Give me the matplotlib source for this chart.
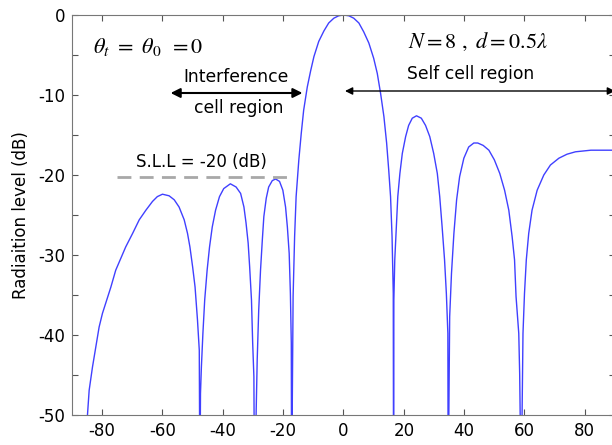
import numpy as np
import matplotlib
matplotlib.use("Agg")
import matplotlib.pyplot as plt

# pattern, lobe by lobe (angle in deg, level in dB)
ang = [-84.9, -84.3, -83.2, -82.1, -81.0, -79.9, -78.8, -77.1, -75.5, -73.8, -72.2, -69.9, -67.7,
       -65.5, -63.3, -61.7, -60.0, -57.8, -56.1, -54.5, -52.8, -51.7, -50.9, -50.0, -49.2, -48.4,
       -47.8, -47.6,
       -47.4, -47.1, -46.6, -46.0, -45.2, -44.4, -43.5, -42.4, -41.1, -39.7, -37.5, -35.6, -34.1,
       -33.0, -32.3, -31.6, -31.1, -30.5, -30.1, -29.7, -29.5,
       -28.6, -28.1, -27.5, -26.9, -26.4, -25.6, -24.8, -23.6, -22.5, -21.2, -20.1, -19.2, -18.6,
       -18.0, -17.6, -17.3, -17.2,
       -16.7, -16.2, -15.7, -14.8, -14.0, -13.2, -12.0, -10.9, -9.8, -8.2, -6.5, -4.9, -3.2, -1.6,
       0.0, 1.8, 3.4, 5.1, 6.7, 8.4, 10.0, 11.2, 12.3, 13.4, 14.3, 15.0, 15.6, 16.1, 16.5, 16.6,
       16.7, 17.0, 17.5, 18.0, 18.7, 19.5, 20.6, 21.6, 22.8, 24.2, 25.8, 27.2, 28.6, 29.9, 31.1,
       31.9, 32.7, 33.5, 34.1, 34.6, 34.7,
       35.2, 35.8, 36.6, 37.5, 38.5, 39.9, 41.5, 43.2, 44.5, 46.3, 48.2, 50.0, 51.8, 53.4, 54.8,
       55.9, 56.7, 57.2, 58.1, 58.4, 58.9,
       59.5, 60.0, 60.6, 61.4, 62.5, 64.2, 66.4, 68.6, 71.4, 74.1, 76.9, 79.6, 82.0, 90.0]
level = [-50.2, -46.9, -44.0, -41.5, -39.0, -37.3, -36.0, -34.0, -31.9, -30.4, -29.0, -27.3, -25.6,
         -24.4, -23.3, -22.7, -22.4, -22.6, -23.1, -24.0, -25.6, -27.3, -29.0, -31.5, -34.0, -38.1,
         -41.9, -60.0,
         -47.3, -44.0, -39.8, -35.6, -31.9, -29.0, -26.5, -24.4, -22.7, -21.7, -21.1, -21.5, -22.3,
         -24.0, -26.0, -28.5, -31.5, -35.6, -41.0, -45.2, -60.0,
         -43.1, -36.9, -31.9, -28.1, -25.2, -22.9, -21.5, -20.7, -20.5, -20.8, -21.9, -24.0, -26.5,
         -29.8, -34.8, -41.0, -60.0,
         -35.2, -27.7, -22.7, -18.1, -14.8, -11.9, -9.0, -7.0, -5.2, -3.3, -2.0, -1.0, -0.4, -0.1,
         0.0, -0.1, -0.4, -1.0, -2.1, -3.5, -5.4, -7.3, -9.8, -12.7, -16.0, -19.4, -22.7, -27.7, -34.8, -60.0,
         -35.6, -30.6, -26.5, -22.7, -19.8, -17.3, -15.2, -13.8, -12.9, -12.6, -12.9, -13.8, -15.2, -17.3, -19.8,
         -22.7, -26.5, -30.6, -34.8, -39.8, -60.0,
         -37.7, -32.3, -27.3, -23.1, -20.2, -17.9, -16.5, -16.0, -16.0, -16.3, -16.9, -18.1, -19.8, -21.9, -24.4,
         -27.7, -30.6, -35.2, -39.8, -44.8, -60.0,
         -39.8, -34.8, -30.6, -27.3, -24.4, -21.9, -20.0, -18.75, -17.9, -17.4, -17.1, -17.0, -16.9, -16.9]

xticks = [-80, -60, -40, -20, 0, 20, 40, 60, 80]
yticks = [0, -10, -20, -30, -40, -50]

plt.rcParams['font.family'] = ['DejaVu Sans']
plt.rcParams['mathtext.fontset'] = 'stix'
plt.rcParams['axes.unicode_minus'] = False

fig = plt.figure(figsize=(6.12, 4.45), dpi=100)
ax = fig.add_axes([0.1176, 0.0674, 0.8873, 0.8989])

ax.plot(ang, level, color='#4040ff', lw=1.0)

ax.set_xlim(-90, 90)
ax.set_ylim(-50, 0)
ax.set_xticks(xticks)
ax.set_yticks(yticks)
ax.set_yticks(np.arange(-45, 0, 10), minor=True)
ax.tick_params(which='both', direction='in', top=True, right=True, length=4,
               width=0.8, color='#555555', labelsize=12, pad=5)
for s in ax.spines.values():
    s.set_color('#777777')
ax.set_ylabel('Radiaition level (dB)', fontsize=12, labelpad=6)

# side lobe level marker
ax.plot([-75, -18.6], [-20.25, -20.25], color='#a8a8a8', lw=2, dashes=(5, 3))
ax.text(-47, -18.4, 'S.L.L = -20 (dB)', ha='center', va='center', fontsize=12)

# annotations
ax.text(-83, -4, r'$\theta_{t}\ =\ \theta_{0}\ \,=0$', fontsize=16,
        ha='left', va='center')
ax.text(44.4, -3.4, r'$N = 8\ ,\ d = 0.5\lambda$', fontsize=16, ha='center', va='center')
ax.text(-35.5, -7.75, 'Interference', ha='center', va='center', fontsize=12.3)
ax.text(-34.8, -11.6, 'cell region', ha='center', va='center', fontsize=12.3)
ax.text(42.1, -7.4, 'Self cell region', ha='center', va='center', fontsize=12.3)

ax.annotate('', xy=(-57.3, -9.75), xytext=(-13.6, -9.75),
            arrowprops=dict(arrowstyle='<|-|>', color='black', lw=1.5,
                            mutation_scale=14, shrinkA=0, shrinkB=0))
ax.annotate('', xy=(0.5, -9.5), xytext=(90, -9.5), annotation_clip=False,
            arrowprops=dict(arrowstyle='<|-|>', color='black', lw=1.0,
                            mutation_scale=11, shrinkA=0, shrinkB=0))

fig.savefig('out.png', dpi=100)
